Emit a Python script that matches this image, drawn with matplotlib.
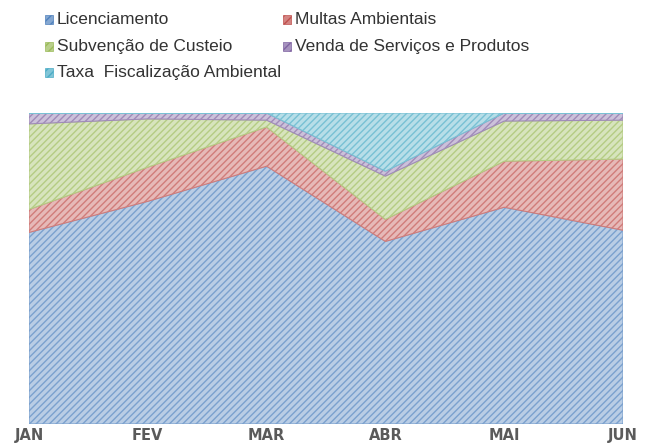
import matplotlib
matplotlib.use("Agg")
import matplotlib.pyplot as plt
import numpy as np
from matplotlib.colors import to_rgb

months = ["JAN", "FEV", "MAR", "ABR", "MAI", "JUN"]
series_names = ["Licenciamento", "Multas Ambientais", "Subvenção de Custeio",
                "Venda de Serviços e Produtos", "Taxa  Fiscalização Ambiental"]
licenciamento = [61.6, 71.6, 82.9, 58.7, 69.7, 62.3]
multas = [7.4, 11.0, 12.6, 7.1, 14.8, 22.9]
subvencao = [27.5, 15.5, 2.2, 13.9, 12.9, 12.5]
venda = [3.5, 1.9, 2.3, 1.6, 2.6, 2.3]
taxa = [0.0, 0.0, 0.0, 18.7, 0.0, 0.0]
series = [licenciamento, multas, subvencao, venda, taxa]
colors = ["#4F81BD", "#C0504D", "#9BBB59", "#8064A2", "#4BACC6"]

plt.rcParams["hatch.linewidth"] = 1.0

def tint(c, f):
    r = np.array(to_rgb(c))
    return tuple(r + (1 - r) * f)

fig = plt.figure(figsize=(6.48, 4.47), dpi=100)
ax = fig.add_axes([29/648, 23/447, 594/648, 311/447])

x = np.arange(len(months))
data = np.array(series, dtype=float)
totals = data.sum(axis=0)
pct = data / totals * 100
base = np.zeros(len(months))
for vals, col in zip(pct, colors):
    top = base + vals
    ax.fill_between(x, base, top, facecolor=tint(col, 0.6),
                    edgecolor=tint(col, 0.25), hatch="/////", linewidth=0.8)
    base = top

ax.set_xlim(0, len(months) - 1)
ax.set_ylim(0, 100)
ax.set_yticks([])
ax.set_xticks(x)
ax.set_xticklabels(months, fontsize=10.5, color="#5a5a5a", fontweight="bold")
ax.tick_params(axis="x", length=0, pad=3)
for s in ax.spines.values():
    s.set_visible(False)

# legend (row-major, two columns)
W, H = 648, 447
col_x = [45, 283]
row_y = [19, 46, 72]
for i, (name, col) in enumerate(zip(series_names, colors)):
    r, c = divmod(i, 2)
    mx, my = col_x[c], row_y[r]
    rect = plt.Rectangle((mx / W, 1 - (my + 4.5) / H), 8 / W, 9 / H,
                         transform=fig.transFigure, facecolor=tint(col, 0.3),
                         edgecolor=col, hatch="////", linewidth=0.5)
    fig.patches.append(rect)
    fig.text((mx + 12) / W, 1 - my / H, name, fontsize=12.5,
             family="Liberation Sans", color="#333333", va="center", ha="left")

fig.savefig("out.png", dpi=100)
